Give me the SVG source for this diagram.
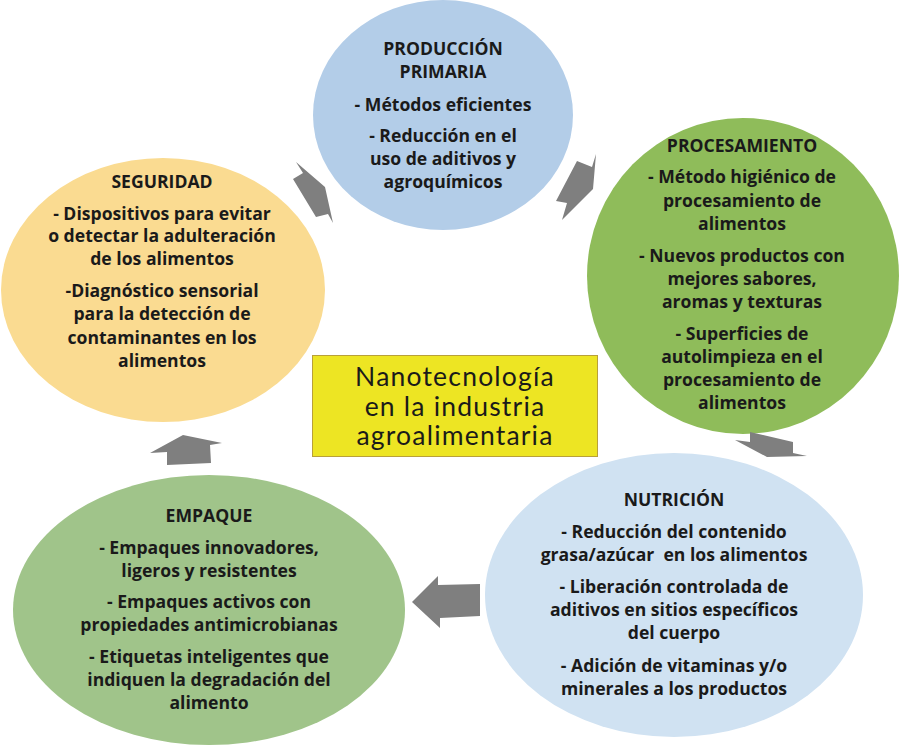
<svg xmlns="http://www.w3.org/2000/svg" width="899" height="745" viewBox="0 0 899 745">
<style>
.t{font-family:"Open Sans",Lato,"Liberation Sans",sans-serif;font-weight:bold;font-size:17.6px;fill:#1a1a1a;text-anchor:middle}
.arr{fill:#7f7f7f}
.c{font-family:Lato,"Liberation Sans",sans-serif;font-size:26.5px;letter-spacing:1.2px;fill:#1a1a1a;text-anchor:middle}
</style>
<rect width="899" height="745" fill="#ffffff"/>
<g id="produccion">
<ellipse cx="443" cy="115" rx="130" ry="115" fill="#b3cde8"/>
<text class="t" x="443" y="55">PRODUCCIÓN</text>
<text class="t" x="443" y="78">PRIMARIA</text>
<text class="t" x="443" y="111">- Métodos eficientes</text>
<text class="t" x="443" y="142">- Reducción en el</text>
<text class="t" x="443" y="165">uso de aditivos y</text>
<text class="t" x="443" y="188">agroquímicos</text>
</g>
<g id="seguridad">
<ellipse cx="163" cy="290" rx="162" ry="132" fill="#fadb91"/>
<text class="t" x="162" y="188">SEGURIDAD</text>
<text class="t" x="162" y="220">- Dispositivos para evitar</text>
<text class="t" x="162" y="242">o detectar la adulteración</text>
<text class="t" x="162" y="265">de los alimentos</text>
<text class="t" x="162" y="297">-Diagnóstico sensorial</text>
<text class="t" x="162" y="320">para la detección de</text>
<text class="t" x="162" y="344">contaminantes en los</text>
<text class="t" x="162" y="367">alimentos</text>
</g>
<g id="procesamiento">
<ellipse cx="743" cy="276" rx="156" ry="158" fill="#8fbc5a"/>
<text class="t" x="742" y="152">PROCESAMIENTO</text>
<text class="t" x="742" y="183">- Método higiénico de</text>
<text class="t" x="742" y="207">procesamiento de</text>
<text class="t" x="742" y="230">alimentos</text>
<text class="t" x="742" y="262">- Nuevos productos con</text>
<text class="t" x="742" y="285">mejores sabores,</text>
<text class="t" x="742" y="308">aromas y texturas</text>
<text class="t" x="742" y="340">- Superficies de</text>
<text class="t" x="742" y="363">autolimpieza en el</text>
<text class="t" x="742" y="386">procesamiento de</text>
<text class="t" x="742" y="409">alimentos</text>
</g>
<g id="nutricion">
<ellipse cx="674" cy="595" rx="189" ry="142" fill="#d0e2f2"/>
<text class="t" x="674" y="506">NUTRICIÓN</text>
<text class="t" x="674" y="538">- Reducción del contenido</text>
<text class="t" x="674" y="561">grasa/azúcar&#160; en los alimentos</text>
<text class="t" x="674" y="593">- Liberación controlada de</text>
<text class="t" x="674" y="616">aditivos en sitios específicos</text>
<text class="t" x="674" y="639">del cuerpo</text>
<text class="t" x="674" y="672">- Adición de vitaminas y/o</text>
<text class="t" x="674" y="695">minerales a los productos</text>
</g>
<g id="empaque">
<ellipse cx="209" cy="610" rx="196" ry="135" fill="#a0c48a"/>
<text class="t" x="209" y="522">EMPAQUE</text>
<text class="t" x="209" y="554">- Empaques innovadores,</text>
<text class="t" x="209" y="577">ligeros y resistentes</text>
<text class="t" x="209" y="608">- Empaques activos con</text>
<text class="t" x="209" y="631">propiedades antimicrobianas</text>
<text class="t" x="209" y="663">- Etiquetas inteligentes que</text>
<text class="t" x="209" y="686">indiquen la degradación del</text>
<text class="t" x="209" y="709">alimento</text>
</g>
<g id="centro">
<rect x="312.5" y="355.5" width="285" height="101" fill="#ede523" stroke="#b8a03a" stroke-width="1"/>
<text class="c" x="455" y="386">Nanotecnología</text>
<text class="c" x="455" y="416">en la industria</text>
<text class="c" x="455" y="445">agroalimentaria</text>
</g>
<g id="connectors">
<polygon class="arr" points="296,162 303,173 293,179 316,217 328,214 333,223 325,187"/>
<polygon class="arr" points="596,154 592,167 577,161 556,201 567,203 562,220 593,189"/>
<polygon class="arr" points="750,432 793,442 793,453 807,456 767,457 735,440 750,442"/>
<polygon class="arr" points="412,602 438,576 438,585 480,584 480,616 440,618 440,628"/>
<polygon class="arr" points="183,435 222,443 210,445 211,463 167,465 167,452 150,453"/>
</g>
</svg>
